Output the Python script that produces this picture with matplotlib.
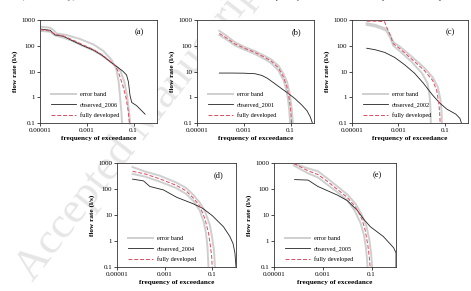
import matplotlib
matplotlib.use('Agg')
import matplotlib.pyplot as plt
import numpy as np

plt.rcParams['font.family'] = ['Liberation Serif', 'DejaVu Serif']

# panel (a) - 2006
a_up_f = [1e-5, 2.7e-5, 3.7e-5, 5.2e-5, 1.4e-4, 5.1e-4, 1.9e-3, 5.1e-3, 0.0115, 0.018, 0.023, 0.026, 0.03, 0.032]
a_up_q = [550, 500, 410, 300, 260, 183, 113, 63, 28, 13, 4, 1.2, 0.28, 0.1]
a_lo_f = [1e-5, 2.7e-5, 4.4e-5, 1e-4, 2.6e-4, 7e-4, 1.9e-3, 4.4e-3, 0.01, 0.02, 0.028, 0.04, 0.054, 0.063, 0.071]
a_lo_q = [380, 350, 250, 205, 150, 98, 66, 42, 24, 15, 10, 4, 1, 0.3, 0.1]
a_obs_f = [1e-5, 2.7e-5, 4.4e-5, 1e-4, 2.6e-4, 7e-4, 1.9e-3, 4.4e-3, 0.01, 0.019, 0.034, 0.05, 0.06, 0.07, 0.083, 0.135, 0.31]
a_obs_q = [447, 400, 263, 233, 152, 100, 68, 43, 24, 15.5, 10.5, 7.3, 4, 1.2, 0.63, 0.47, 0.22]
a_fd_f = [1e-5, 2.7e-5, 4.4e-5, 1e-4, 2.6e-4, 7e-4, 1.9e-3, 4.4e-3, 0.01, 0.016, 0.022, 0.034, 0.047, 0.058, 0.066]
a_fd_q = [420, 373, 277, 240, 165, 107, 72, 45, 25, 17, 10, 3, 1, 0.32, 0.1]

# panel (b) - 2001
b_up_f = [9e-5, 2e-4, 4e-4, 1e-3, 3e-3, 8e-3, 0.015, 0.03, 0.05, 0.07, 0.09, 0.11, 0.125]
b_up_q = [380, 230, 140, 92, 62, 40, 29, 17, 8, 4, 1.5, 0.4, 0.1]
b_lo_f = [9e-5, 2e-4, 4e-4, 1e-3, 3e-3, 8e-3, 0.015, 0.03, 0.05, 0.065, 0.078, 0.088, 0.095]
b_lo_q = [260, 165, 105, 72, 48, 30, 21, 11, 4.5, 2, 0.8, 0.3, 0.1]
b_obs_f = [9e-5, 3e-4, 1e-3, 3e-3, 6e-3, 0.01, 0.02, 0.04, 0.08, 0.15, 0.3, 0.5, 0.7, 0.85]
b_obs_q = [8.7, 8.7, 8.6, 8.2, 7, 5.5, 3.5, 2.2, 1.4, 0.9, 0.5, 0.3, 0.17, 0.1]
b_fd_f = [9e-5, 2e-4, 4e-4, 1e-3, 3e-3, 8e-3, 0.015, 0.03, 0.05, 0.07, 0.085, 0.1, 0.11]
b_fd_q = [300, 190, 120, 82, 55, 35, 25, 14, 6, 2.5, 1, 0.35, 0.1]

# panel (c) - 2002
c_up_f = [4.3e-5, 1e-4, 2e-4, 3e-4, 4.5e-4, 6e-4, 1.2e-3, 3.5e-3, 0.013, 0.03, 0.05, 0.065, 0.072, 0.075]
c_up_q = [750, 650, 520, 450, 250, 140, 90, 40, 14, 6, 2.5, 0.8, 0.3, 0.1]
c_lo_f = [4.3e-5, 1e-4, 2e-4, 3e-4, 4.5e-4, 6e-4, 1.2e-3, 3.5e-3, 0.01, 0.018, 0.022, 0.024, 0.025]
c_lo_q = [650, 560, 450, 380, 200, 100, 60, 25, 9, 3.5, 1.2, 0.4, 0.1]
c_obs_f = [4.3e-5, 1e-4, 2.6e-4, 7e-4, 1.9e-3, 5e-3, 0.012, 0.03, 0.06, 0.12, 0.3, 0.45, 0.52]
c_obs_q = [80, 70, 55, 35, 18, 8.5, 3.5, 1.2, 0.6, 0.35, 0.22, 0.15, 0.1]
c_fd_f = [4.3e-5, 1e-4, 2.5e-4, 3.2e-4, 4.5e-4, 6e-4, 1.2e-3, 3.5e-3, 0.013, 0.03, 0.045, 0.055, 0.06, 0.063]
c_fd_q = [900, 900, 870, 500, 250, 120, 75, 32, 11, 4.5, 1.8, 0.6, 0.25, 0.1]

# panel (d) - 2004
d_up_f = [4.5e-5, 1.5e-4, 6e-4, 3e-3, 8e-3, 0.016, 0.03, 0.05, 0.08, 0.1, 0.12, 0.13]
d_up_q = [700, 470, 330, 180, 110, 60, 30, 14, 4, 1.3, 0.4, 0.1]
d_lo_f = [4.5e-5, 1.5e-4, 6e-4, 3e-3, 8e-3, 0.016, 0.03, 0.045, 0.055, 0.063, 0.07]
d_lo_q = [380, 300, 195, 110, 65, 35, 15, 5, 2, 0.6, 0.1]
d_obs_f = [4.5e-5, 1.3e-4, 2.4e-4, 9e-4, 3.2e-3, 0.016, 0.04, 0.1, 0.3, 0.55, 0.75, 0.9, 1.0]
d_obs_q = [240, 205, 125, 92, 48, 27, 18, 9.5, 3.5, 1.5, 0.8, 0.35, 0.1]
d_fd_f = [4.5e-5, 1.5e-4, 6e-4, 3e-3, 8e-3, 0.016, 0.03, 0.05, 0.07, 0.085, 0.095, 0.1]
d_fd_q = [480, 380, 250, 140, 85, 45, 22, 7, 2, 0.6, 0.25, 0.1]

# panel (e) - 2005
e_up_f = [5.5e-5, 2.5e-4, 6.3e-4, 1.5e-3, 4e-3, 0.01, 0.022, 0.04, 0.06, 0.08, 0.095, 0.105]
e_up_q = [1000, 620, 480, 260, 125, 62, 27, 10, 4, 1.2, 0.35, 0.1]
e_lo_f = [6.5e-5, 2.5e-4, 6.3e-4, 1.5e-3, 4e-3, 0.01, 0.02, 0.035, 0.048, 0.058, 0.065, 0.068]
e_lo_q = [800, 400, 280, 150, 75, 37, 15, 5, 1.8, 0.6, 0.2, 0.1]
e_obs_f = [7e-5, 2.5e-4, 6.3e-4, 1.6e-3, 4e-3, 0.01, 0.026, 0.05, 0.09, 0.3, 0.8, 1.0, 1.0]
e_obs_q = [230, 220, 125, 85, 58, 36, 15, 6.5, 3.5, 1.5, 0.55, 0.35, 0.1]
e_fd_f = [6.5e-5, 2.5e-4, 6.3e-4, 1.5e-3, 4e-3, 0.01, 0.022, 0.04, 0.055, 0.07, 0.08, 0.087]
e_fd_q = [950, 500, 360, 200, 95, 48, 20, 7, 2.5, 0.7, 0.25, 0.1]

x_ticks = [1e-5, 1e-3, 1e-1]
x_labels = ['0.00001', '0.001', '0.1']
y_ticks = [0.1, 1, 10, 100, 1000]
y_labels = ['0.1', '1', '10', '100', '1000']

W, H = 471, 291
fig = plt.figure(figsize=(W / 100, H / 100), dpi=100)

# faint watermark and the cut-off text line of the page
fig.text(0.085, 0.01, 'Accepted Manuscript', rotation=52, rotation_mode='anchor',
         fontsize=32, color='#e6e6e6', ha='left', va='bottom', zorder=-1)
fig.text(0.0, 1.01, '2004 (2216 m\u00b3/day). The flow rates show that low flows occur more frequently in terms of lower impact reduction planet.',
         fontsize=6.8, color='#555555', ha='left', va='center', zorder=-1)


def box(l, r, t, b):
    return [l / W, 1 - b / H, (r - l) / W, (b - t) / H]


panels = [
    (box(40, 157, 20, 123), '(a)', 'observed_2006', a_up_f, a_up_q, a_lo_f, a_lo_q, a_obs_f, a_obs_q, a_fd_f, a_fd_q),
    (box(197, 314, 20, 123), '(b)', 'observed_2001', b_up_f, b_up_q, b_lo_f, b_lo_q, b_obs_f, b_obs_q, b_fd_f, b_fd_q),
    (box(352, 468, 20, 123), '(c)', 'observed_2002', c_up_f, c_up_q, c_lo_f, c_lo_q, c_obs_f, c_obs_q, c_fd_f, c_fd_q),
    (box(117, 236, 163, 267), '(d)', 'observed_2004', d_up_f, d_up_q, d_lo_f, d_lo_q, d_obs_f, d_obs_q, d_fd_f, d_fd_q),
    (box(274, 396, 163, 267), '(e)', 'observed_2005', e_up_f, e_up_q, e_lo_f, e_lo_q, e_obs_f, e_obs_q, e_fd_f, e_fd_q),
]

for pos, tag, obs_label, uf, uq, lf, lq, of, oq, ff, fq in panels:
    ax = fig.add_axes(pos)
    ax.set_facecolor('white')
    ax.plot(uf, uq, color='#cfcfcf', lw=1.4, label='error band', zorder=2)
    ax.plot(lf, lq, color='#cfcfcf', lw=1.4, zorder=2)
    ax.plot(of, oq, color='#222222', lw=0.6, label=obs_label, zorder=3)
    ax.plot(ff, fq, color='#dd4a5e', lw=0.7, ls=(0, (4, 2)), label='fully developed', zorder=4)

    ax.set_xscale('log')
    ax.set_yscale('log')
    ax.set_xlim(1e-5, 1)
    ax.set_ylim(0.1, 1000)
    ax.set_xticks(x_ticks)
    ax.set_xticklabels(x_labels)
    ax.set_yticks(y_ticks)
    ax.set_yticklabels(y_labels)
    ax.minorticks_off()
    ax.tick_params(labelsize=5.0, direction='out', length=2, width=0.5, pad=1.5)
    for s in ax.spines.values():
        s.set_linewidth(0.6)
        s.set_color('#333333')

    ax.set_xlabel('frequency of exceedance', fontsize=5.2, fontweight='bold', labelpad=2)
    ax.set_ylabel('flow rate (l/s)', fontsize=5.2, fontweight='bold', labelpad=2)
    ax.text(0.85, 0.88, tag, transform=ax.transAxes, fontsize=6, ha='center', va='center')

    ax.legend(loc='lower left', bbox_to_anchor=(0.05, 0.0), frameon=False, fontsize=4.5,
              handlelength=4.0, handletextpad=0.6, labelspacing=0.8, borderaxespad=0.4)

fig.savefig('out.png', dpi=100)
